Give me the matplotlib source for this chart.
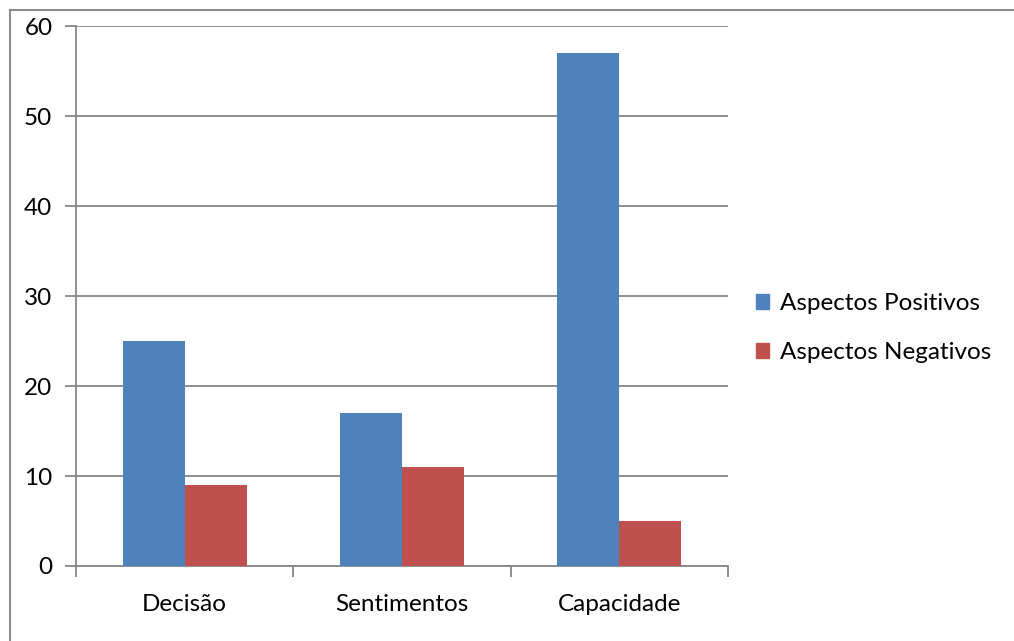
import matplotlib.pyplot as plt
import matplotlib.lines as mlines
import matplotlib.patches as mpatches
import numpy as np

categorias = ['Decisão', 'Sentimentos', 'Capacidade']
positivos = [25, 17, 57]
negativos = [9, 11, 5]
series = ['Aspectos Positivos', 'Aspectos Negativos']
yticks = [0, 10, 20, 30, 40, 50, 60]

azul = '#4F81BD'
vermelho = '#C0504D'
cinza = '#868686'

plt.rcParams['font.family'] = ['Lato', 'DejaVu Sans']

fig = plt.figure(figsize=(10.14, 6.41), dpi=100)
W, H = 1014, 641
ax = fig.add_axes([76 / W, 1 - 566 / H, (728 - 76) / W, (566 - 26) / H])

x = np.arange(len(categorias)) + 0.5
largura = 1 / 3.5
ax.bar(x - largura / 2, positivos, largura, color=azul, label=series[0], zorder=3)
ax.bar(x + largura / 2, negativos, largura, color=vermelho, label=series[1], zorder=3)

ax.set_xlim(0, 3)
ax.set_ylim(0, 60)
ax.set_yticks(yticks)
ax.tick_params(axis='y', labelsize=17.5, length=8, width=1.3, color=cinza, pad=9)
ax.yaxis.grid(True, color=cinza, linewidth=1.3, zorder=0)

# categorias centradas, ticks nas divisões
ax.set_xticks([0, 1, 2, 3])
ax.set_xticklabels([])
ax.set_xticks(x, minor=True)
ax.set_xticklabels(categorias, minor=True, fontsize=17.5)
ax.tick_params(axis='x', which='major', length=8, width=1.3, color=cinza)
ax.tick_params(axis='x', which='minor', length=0, pad=20)

for lado in ['top', 'right']:
    ax.spines[lado].set_visible(False)
for lado in ['left', 'bottom']:
    ax.spines[lado].set_color(cinza)
    ax.spines[lado].set_linewidth(1.3)

handles = [mpatches.Patch(color=azul), mpatches.Patch(color=vermelho)]
fig.legend(handles, series, loc='center left', bbox_to_anchor=(734 / W, 1 - 328 / H),
           frameon=False, fontsize=17.5, handlelength=0.55, handleheight=0.55,
           handletextpad=0.45, labelspacing=1.15)

# moldura do gráfico
fig.add_artist(mlines.Line2D([10 / W, 1], [1 - 10 / H, 1 - 10 / H], color='#8c8c8c', linewidth=1.5))
fig.add_artist(mlines.Line2D([10 / W, 10 / W], [0, 1 - 10 / H], color='#8c8c8c', linewidth=1.5))

plt.savefig('out.png', dpi=100)
